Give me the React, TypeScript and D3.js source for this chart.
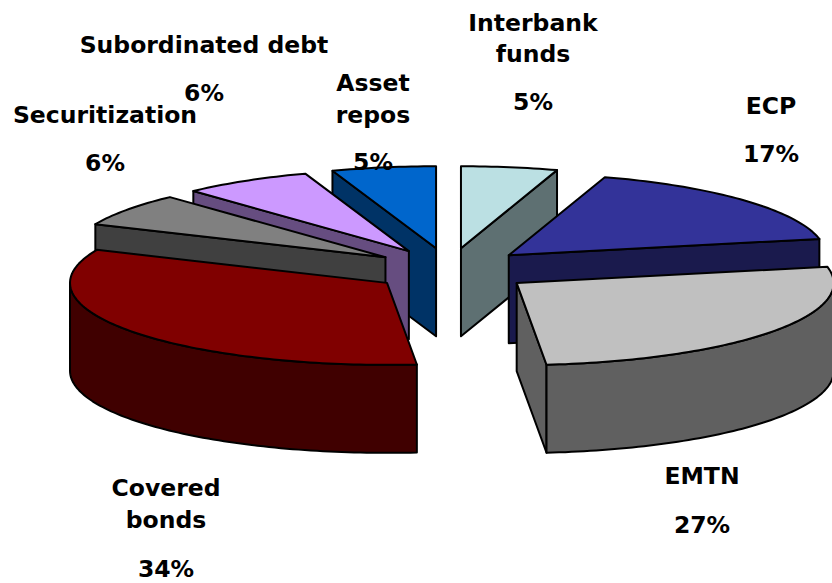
import React from "react";
import * as d3 from "d3";

const categories = ["Interbank funds", "ECP", "EMTN", "Covered bonds", "Securitization", "Subordinated debt", "Asset repos"];
const shares = [4.9, 16.9, 26.7, 33.1, 6.5, 6.6, 5.3];
const percentLabels = ["5%", "17%", "27%", "34%", "6%", "6%", "5%"];
const topColors = ["#BBE0E3", "#333399", "#C0C0C0", "#800000", "#808080", "#CC99FF", "#0066CC"];
const sideColors = ["#5E7072", "#1A1A4D", "#606060", "#400000", "#404040", "#664D80", "#003366"];
// how far each slice is pulled out, EMTN and ECP a little further
const explosion = [1, 1.03, 1.08, 0.98, 1, 1, 1];
// back to front, right side then left side
const drawOrder = [0, 1, 2, 6, 5, 4, 3];
const labelLines = [["Interbank", "funds"], ["ECP"], ["EMTN"], ["Covered", "bonds"], ["Securitization"], ["Subordinated debt"], ["Asset", "repos"]];
const labelX = [533, 771, 702, 166, 105, 204, 373];
const labelNameY = [[31, 62], [114], [484], [496, 528], [123], [53], [91, 123]];
const labelValueY = [110, 162, 533, 577, 171, 101, 170];

const width = 832;
const height = 583;
const cx = 449;
const cy = 270;
const rx = 317;
const ry = 82;
const explodeX = 78;
const explodeY = 22;
const depth = 88;

type Pt = [number, number];

const pieAngles = d3.pie<number>().sort(null).value((d) => d)(shares);
const line = d3.line<Pt>();

function App() {
  const slices = drawOrder.map((i) => {
    const { startAngle: a0, endAngle: a1 } = pieAngles[i];
    const mid = (a0 + a1) / 2;
    const ax = cx + explodeX * explosion[i] * Math.sin(mid);
    const ay = cy - explodeY * Math.cos(mid);
    const rim = (t: number): Pt => [ax + rx * Math.sin(t), ay - ry * Math.cos(t)];
    const down = ([x, y]: Pt): Pt => [x, y + depth];
    const sample = (t0: number, t1: number) => {
      const n = Math.max(2, Math.ceil((t1 - t0) / 0.02));
      return d3.range(n + 1).map((k) => rim(t0 + ((t1 - t0) * k) / n));
    };

    const apex: Pt = [ax, ay];
    const walls: Pt[][] = [];
    // cut faces that turn toward the viewer
    if (Math.sin(a0) < -1e-6) walls.push([apex, rim(a0), down(rim(a0)), down(apex)]);
    if (Math.sin(a1) > 1e-6) walls.push([apex, rim(a1), down(rim(a1)), down(apex)]);
    // outer wall, front half of the ellipse only
    const f0 = Math.max(a0, Math.PI / 2);
    const f1 = Math.min(a1, (3 * Math.PI) / 2);
    if (f1 > f0) {
      const arc = sample(f0, f1);
      walls.push([...arc, ...arc.map(down).reverse()]);
    }
    const top: Pt[] = [apex, ...sample(a0, a1)];
    return { i, walls, top };
  });

  return (
    <svg
      width={width}
      height={height}
      style={{ position: "absolute", left: 0, top: 0, background: "#fff" }}
      fontFamily="'DejaVu Sans', Verdana, sans-serif"
      fontWeight="bold"
      fontSize={23.5}
    >
      {slices.map((s) => (
        <g key={categories[s.i]} stroke="#000" strokeWidth={2} strokeLinejoin="round">
          {s.walls.map((w, k) => (
            <path key={k} d={line(w) + "Z"} fill={sideColors[s.i]} />
          ))}
          <path d={line(s.top) + "Z"} fill={topColors[s.i]} />
        </g>
      ))}
      {categories.map((c, i) => (
        <g key={c} textAnchor="middle" fill="#000">
          {labelLines[i].map((t, k) => (
            <text key={t} x={labelX[i]} y={labelNameY[i][k]}>
              {t}
            </text>
          ))}
          <text x={labelX[i]} y={labelValueY[i]}>
            {percentLabels[i]}
          </text>
        </g>
      ))}
    </svg>
  );
}

export default App;
